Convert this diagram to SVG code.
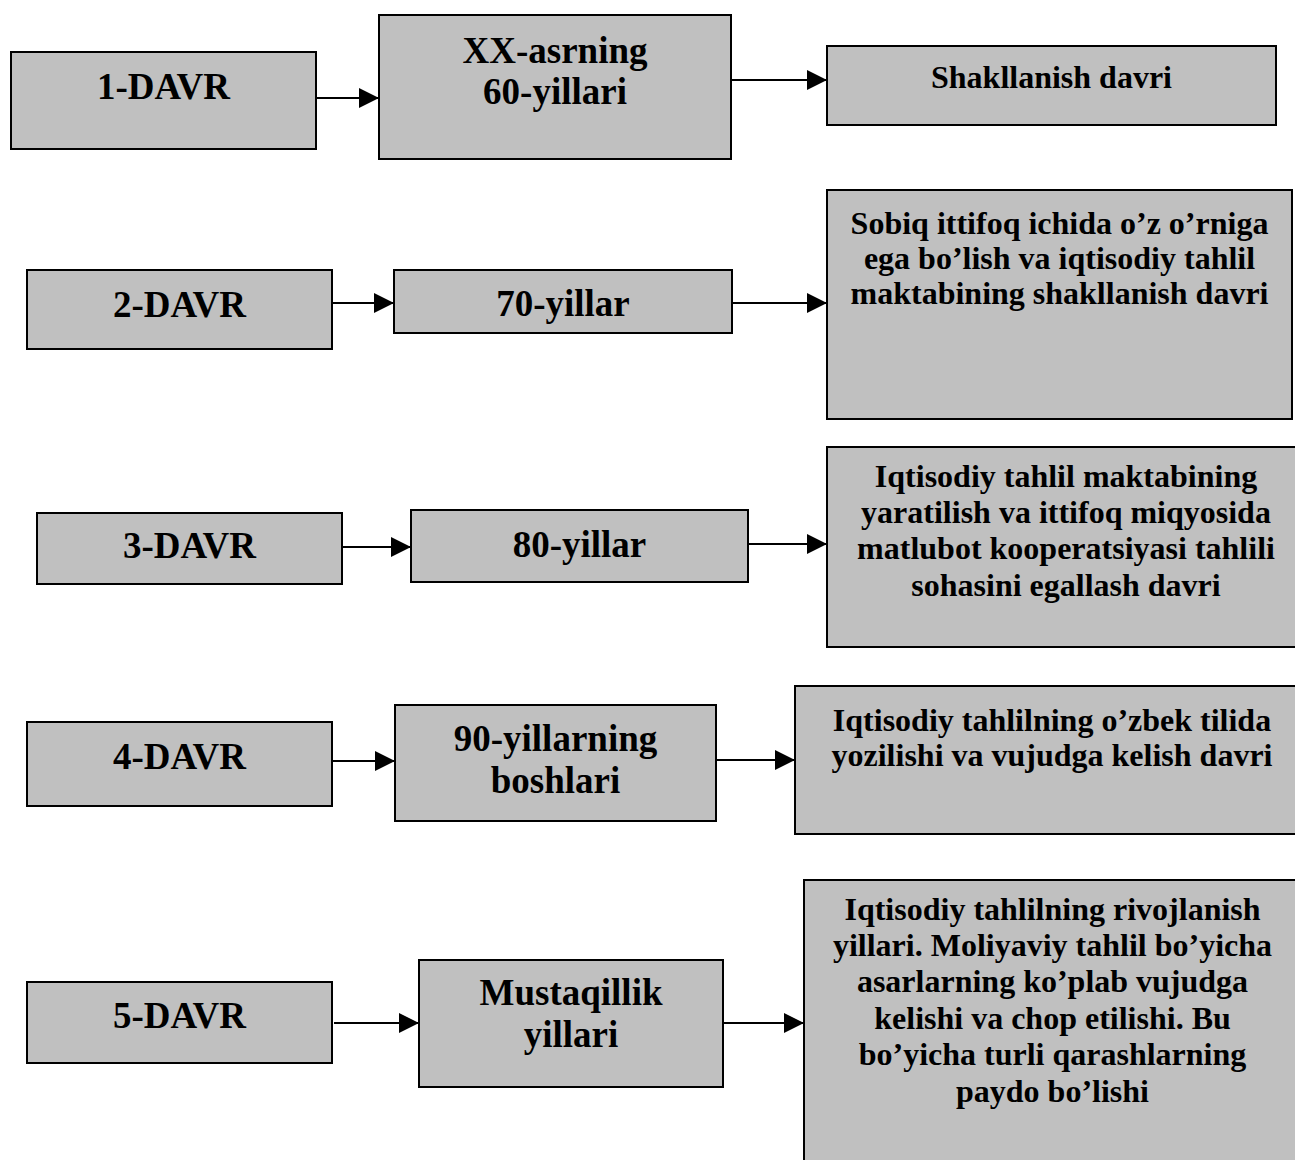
<svg xmlns="http://www.w3.org/2000/svg" width="1295" height="1160" viewBox="0 0 1295 1160">
<style>
.box{fill:#c0c0c0;stroke:#000;stroke-width:2}
.big{font-family:"Liberation Serif","Times New Roman",serif;font-weight:bold;font-size:37px;fill:#000;text-anchor:middle}
.sm{font-family:"Liberation Serif","Times New Roman",serif;font-weight:bold;font-size:32px;fill:#000;text-anchor:middle}
.con{stroke:#000;stroke-width:2;fill:none;marker-end:url(#ah)}
</style>
<defs>
<marker id="ah" markerUnits="userSpaceOnUse" markerWidth="20" markerHeight="20" refX="20" refY="10" orient="auto">
<path d="M0,0 L20,10 L0,20 z" fill="#000"/>
</marker>
</defs>
<rect width="1295" height="1160" fill="#fff"/>
<g id="connectors">
<line class="con" x1="316" y1="98" x2="379" y2="98"/>
<line class="con" x1="731" y1="80" x2="827" y2="80"/>
<line class="con" x1="332" y1="303" x2="394" y2="303"/>
<line class="con" x1="732" y1="303" x2="827" y2="303"/>
<line class="con" x1="342" y1="547" x2="411" y2="547"/>
<line class="con" x1="748" y1="544" x2="827" y2="544"/>
<line class="con" x1="332" y1="761" x2="395" y2="761"/>
<line class="con" x1="716" y1="760" x2="795" y2="760"/>
<line class="con" x1="334" y1="1023" x2="419" y2="1023"/>
<line class="con" x1="723" y1="1023" x2="804" y2="1023"/>
</g>
<g id="d1"><rect class="box" x="11" y="52" width="305" height="97"/><text class="big" x="163.5" y="99">1-DAVR</text></g>
<g id="y1"><rect class="box" x="379" y="15" width="352" height="144"/><text class="big" x="555" y="63">XX-asrning</text><text class="big" x="555" y="104">60-yillari</text></g>
<g id="t1"><rect class="box" x="827" y="46" width="449" height="79"/><text class="sm" x="1051.5" y="88">Shakllanish davri</text></g>

<g id="d2"><rect class="box" x="27" y="270" width="305" height="79"/><text class="big" x="179.5" y="317">2-DAVR</text></g>
<g id="y2"><rect class="box" x="394" y="270" width="338" height="63"/><text class="big" x="563" y="316">70-yillar</text></g>
<g id="t2"><rect class="box" x="827" y="190" width="465" height="229"/><text class="sm" x="1059.5" y="234">Sobiq ittifoq ichida o’z o’rniga</text><text class="sm" x="1059.5" y="269">ega bo’lish va iqtisodiy tahlil</text><text class="sm" x="1059.5" y="304">maktabining shakllanish davri</text></g>

<g id="d3"><rect class="box" x="37" y="513" width="305" height="71"/><text class="big" x="189.5" y="558">3-DAVR</text></g>
<g id="y3"><rect class="box" x="411" y="510" width="337" height="72"/><text class="big" x="579.5" y="557">80-yillar</text></g>
<g id="t3"><rect class="box" x="827" y="447" width="478" height="200"/><text class="sm" x="1066" y="487">Iqtisodiy tahlil maktabining</text><text class="sm" x="1066" y="523">yaratilish va ittifoq miqyosida</text><text class="sm" x="1066" y="559">matlubot kooperatsiyasi tahlili</text><text class="sm" x="1066" y="596">sohasini egallash davri</text></g>

<g id="d4"><rect class="box" x="27" y="722" width="305" height="84"/><text class="big" x="179.5" y="769">4-DAVR</text></g>
<g id="y4"><rect class="box" x="395" y="705" width="321" height="116"/><text class="big" x="555.5" y="751">90-yillarning</text><text class="big" x="555.5" y="793">boshlari</text></g>
<g id="t4"><rect class="box" x="795" y="686" width="513" height="148"/><text class="sm" x="1052" y="731">Iqtisodiy tahlilning o’zbek tilida</text><text class="sm" x="1052" y="766">yozilishi va vujudga kelish davri</text></g>

<g id="d5"><rect class="box" x="27" y="982" width="305" height="81"/><text class="big" x="179.5" y="1028">5-DAVR</text></g>
<g id="y5"><rect class="box" x="419" y="960" width="304" height="127"/><text class="big" x="571" y="1005">Mustaqillik</text><text class="big" x="571" y="1047">yillari</text></g>
<g id="t5"><rect class="box" x="804" y="880" width="497" height="295"/><text class="sm" x="1052.5" y="920">Iqtisodiy tahlilning rivojlanish</text><text class="sm" x="1052.5" y="956">yillari. Moliyaviy tahlil bo’yicha</text><text class="sm" x="1052.5" y="992">asarlarning ko’plab vujudga</text><text class="sm" x="1052.5" y="1029">kelishi va chop etilishi. Bu</text><text class="sm" x="1052.5" y="1065">bo’yicha turli qarashlarning</text><text class="sm" x="1052.5" y="1102">paydo bo’lishi</text></g>
</svg>
